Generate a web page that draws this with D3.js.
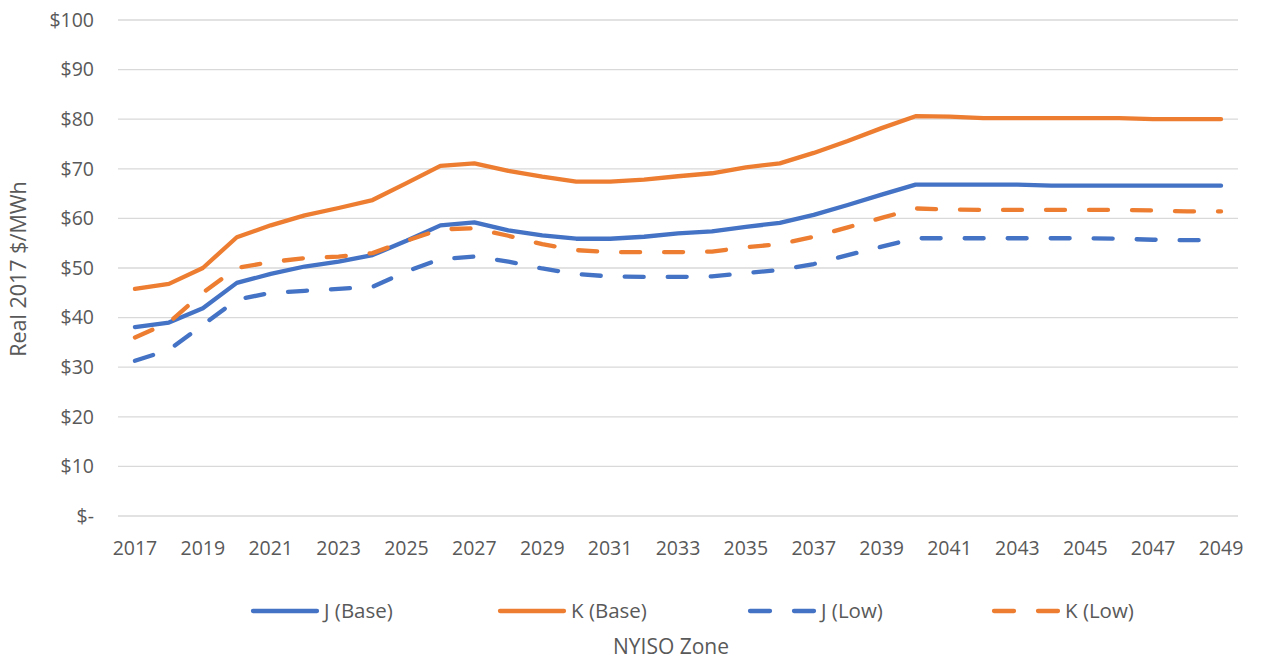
<!DOCTYPE html>
<html>
<head>
<meta charset="utf-8">
<script src="https://cdn.jsdelivr.net/npm/d3@7"></script>
<style>
  body { margin: 0; background: #fff; }
  text { font-family: "Open Sans", "Noto Sans", sans-serif; fill: #595959; }
</style>
</head>
<body>
<svg id="chart" width="1261" height="662"></svg>
<script>
const years = d3.range(2017, 2050);
const tickYears = d3.range(2017, 2050, 2);
const yTicks = d3.range(0, 101, 10);

const jBase = [38.1, 39.0, 41.9, 47.0, 48.8, 50.3, 51.3, 52.6, 55.5, 58.6, 59.2, 57.6, 56.6, 55.9, 55.9, 56.3, 57.0, 57.4, 58.3, 59.1, 60.7, 62.7, 64.8, 66.8, 66.8, 66.8, 66.8, 66.6, 66.6, 66.6, 66.6, 66.6, 66.6];
const kBase = [45.8, 46.8, 50.0, 56.2, 58.6, 60.6, 62.1, 63.7, 67.1, 70.6, 71.1, 69.6, 68.4, 67.4, 67.4, 67.8, 68.5, 69.1, 70.3, 71.1, 73.2, 75.6, 78.2, 80.6, 80.5, 80.2, 80.2, 80.2, 80.2, 80.2, 80.0, 80.0, 80.0];
const jLow = [31.3, 33.5, 38.5, 43.6, 45.0, 45.4, 45.8, 46.2, 49.3, 51.8, 52.3, 51.3, 49.9, 48.8, 48.3, 48.2, 48.2, 48.3, 49.0, 49.6, 50.8, 52.6, 54.3, 56.0, 56.0, 56.0, 56.0, 56.0, 56.0, 55.9, 55.7, 55.6, 55.6];
const kLow = [36.0, 39.0, 45.0, 50.0, 51.2, 52.0, 52.3, 53.0, 55.5, 57.8, 58.0, 56.5, 54.8, 53.6, 53.2, 53.2, 53.2, 53.3, 54.2, 54.8, 56.3, 58.2, 60.1, 62.0, 61.8, 61.7, 61.7, 61.7, 61.7, 61.7, 61.6, 61.4, 61.4];

const seriesNames = ["J (Base)", "K (Base)", "J (Low)", "K (Low)"];
const seriesValues = [jBase, kBase, jLow, kLow];
const seriesColors = ["#4472C4", "#ED7D31", "#4472C4", "#ED7D31"];
const seriesDashed = [false, false, true, true];

const svg = d3.select("#chart");

const x = d3.scaleBand()
    .domain(years)
    .range([118, 1238]);

const y = d3.scaleLinear()
    .domain([0, 100])
    .range([516, 20]);

// gridlines
svg.append("g")
    .selectAll("line")
    .data(yTicks)
    .join("line")
    .attr("x1", 118)
    .attr("x2", 1238)
    .attr("y1", d => y(d))
    .attr("y2", d => y(d))
    .attr("stroke", "#d9d9d9")
    .attr("stroke-width", 1.3);

// y axis labels
svg.append("g")
    .selectAll("text")
    .data(yTicks)
    .join("text")
    .attr("x", 94)
    .attr("y", d => y(d))
    .attr("dy", "0.35em")
    .attr("text-anchor", "end")
    .attr("font-size", 19.5)
    .text(d => d === 0 ? "$-" : "$" + d);

// x axis labels
svg.append("g")
    .selectAll("text")
    .data(tickYears)
    .join("text")
    .attr("x", d => x(d) + x.bandwidth() / 2)
    .attr("y", 548)
    .attr("dy", "0.35em")
    .attr("text-anchor", "middle")
    .attr("font-size", 19.5)
    .text(d => d);

// axis titles
svg.append("text")
    .attr("transform", "translate(18,269) rotate(-90)")
    .attr("dy", "0.35em")
    .attr("text-anchor", "middle")
    .attr("font-size", 21.5)
    .text("Real 2017 $/MWh");

svg.append("text")
    .attr("x", 671)
    .attr("y", 647)
    .attr("dy", "0.35em")
    .attr("text-anchor", "middle")
    .attr("font-size", 21)
    .text("NYISO Zone");

const line = d3.line()
    .x((d, i) => x(years[i]) + x.bandwidth() / 2)
    .y(d => y(d));

seriesValues.forEach((vals, k) => {
    svg.append("path")
        .datum(vals)
        .attr("fill", "none")
        .attr("stroke", seriesColors[k])
        .attr("stroke-width", 4.3)
        .attr("stroke-linecap", "round")
        .attr("stroke-linejoin", "round")
        .attr("stroke-dasharray", seriesDashed[k] ? "19 24" : null)
        .attr("d", line);
});

// legend
const legendX = [253, 500, 750, 994];
const legend = svg.append("g");
seriesNames.forEach((name, k) => {
    const g = legend.append("g").attr("transform", `translate(${legendX[k]},611)`);
    g.append("line")
        .attr("x1", 0).attr("x2", 64)
        .attr("stroke", seriesColors[k])
        .attr("stroke-width", 4.3)
        .attr("stroke-linecap", "round")
        .attr("stroke-dasharray", seriesDashed[k] ? "20 24" : null);
    g.append("text")
        .attr("x", 71)
        .attr("dy", "0.35em")
        .attr("font-size", 20.5)
        .text(name);
});
</script>
</body>
</html>
